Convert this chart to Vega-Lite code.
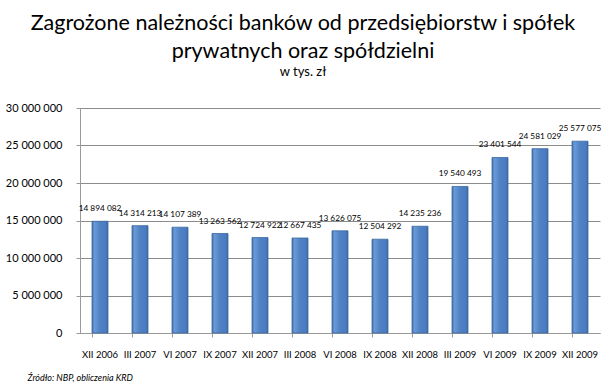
{
  "$schema": "https://vega.github.io/schema/vega-lite/v6.json",
  "width": 520,
  "height": 225,
  "autosize": {"type": "none"},
  "padding": {"left": 80, "top": 108, "right": 6, "bottom": 57},
  "background": "white",
  "config": {
    "locale": {"number": {"decimal": ",", "thousands": " ", "grouping": [3], "currency": ["", " zł"]}},
    "view": {"stroke": null},
    "font": "Lato"
  },
  "title": {
    "text": ["Zagrożone należności banków od przedsiębiorstw i spółek", "prywatnych oraz spółdzielni"],
    "subtitle": "w tys. zł",
    "anchor": "middle",
    "dx": -37,
    "offset": 23,
    "font": "Lato",
    "fontSize": 21.5,
    "fontWeight": "normal",
    "lineHeight": 28,
    "color": "#000000",
    "subtitleFont": "Lato",
    "subtitleFontSize": 13,
    "subtitleColor": "#000000",
    "subtitlePadding": 4
  },
  "data": {
    "values": [
      {"okres": "XII 2006", "wartosc": 14894082},
      {"okres": "III 2007", "wartosc": 14314213},
      {"okres": "VI 2007", "wartosc": 14107389},
      {"okres": "IX 2007", "wartosc": 13263562},
      {"okres": "XII 2007", "wartosc": 12724922},
      {"okres": "III 2008", "wartosc": 12667435},
      {"okres": "VI 2008", "wartosc": 13626075},
      {"okres": "IX 2008", "wartosc": 12504292},
      {"okres": "XII 2008", "wartosc": 14235236},
      {"okres": "III 2009", "wartosc": 19540493},
      {"okres": "VI 2009", "wartosc": 23401544},
      {"okres": "IX 2009", "wartosc": 24581029},
      {"okres": "XII 2009", "wartosc": 25577075}
    ]
  },
  "encoding": {
    "x": {
      "field": "okres",
      "type": "nominal",
      "sort": null,
      "scale": {"paddingInner": 0.6, "paddingOuter": 0.3},
      "axis": {
        "title": "Źródło: NBP, obliczenia KRD",
        "titleFont": "Lato",
        "titleFontStyle": "italic",
        "titleFontWeight": "normal",
        "titleFontSize": 9,
        "titleColor": "#000000",
        "titleAnchor": "start",
        "titleAlign": "left",
        "titleX": -53,
        "titleY": 40,
        "labelAngle": 0,
        "labelFont": "Lato",
        "labelFontSize": 9.5,
        "labelColor": "#000000",
        "labelPadding": 12,
        "bandPosition": 0,
        "tickColor": "#999999",
        "tickSize": 4,
        "domainColor": "#999999",
        "grid": false
      }
    },
    "y": {
      "field": "wartosc",
      "type": "quantitative",
      "scale": {"domain": [0, 30000000]},
      "axis": {
        "title": null,
        "values": [0, 5000000, 10000000, 15000000, 20000000, 25000000, 30000000],
        "format": ",d",
        "labelFont": "Lato",
        "labelFontSize": 11,
        "labelColor": "#000000",
        "labelPadding": 14,
        "tickColor": "#999999",
        "tickSize": 4,
        "domain": true,
        "domainColor": "#999999",
        "gridColor": "#8c8c8c",
        "gridWidth": 1
      }
    }
  },
  "layer": [
    {
      "mark": {
        "type": "bar",
        "stroke": "#3c6aa0",
        "strokeWidth": 0.8,
        "color": {
          "gradient": "linear",
          "x1": 0, "x2": 1, "y1": 0, "y2": 0,
          "stops": [
            {"offset": 0, "color": "#3e70ae"},
            {"offset": 0.15, "color": "#6a9ad6"},
            {"offset": 0.5, "color": "#4f81c4"},
            {"offset": 0.85, "color": "#4a7cbf"},
            {"offset": 1, "color": "#3a6aa6"}
          ]
        }
      }
    },
    {
      "mark": {"type": "text", "dy": -12, "fontSize": 8.3, "color": "#000000", "font": "Lato"},
      "encoding": {
        "text": {"field": "wartosc", "type": "quantitative", "format": ",d"}
      }
    }
  ]
}
